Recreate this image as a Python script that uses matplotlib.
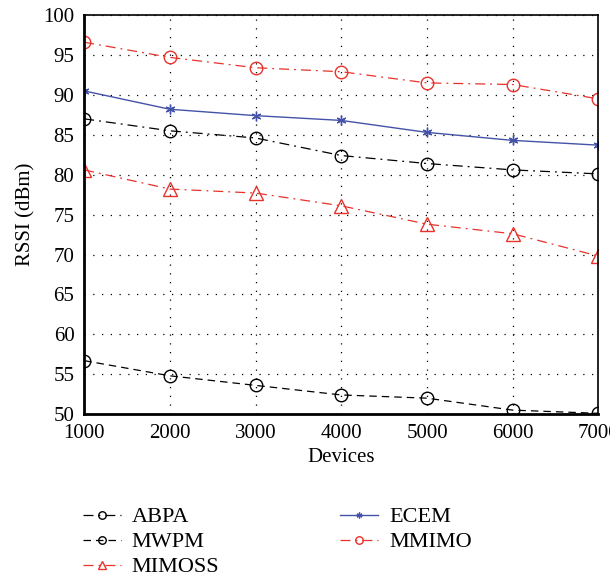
import matplotlib.pyplot as plt

plt.rcParams['font.family'] = ['Liberation Serif', 'DejaVu Serif']

devices = [1000, 2000, 3000, 4000, 5000, 6000, 7000]
abpa = [87.0, 85.5, 84.6, 82.4, 81.4, 80.6, 80.1]
mwpm = [56.7, 54.8, 53.6, 52.4, 52.0, 50.5, 50.1]
mimoss = [80.6, 78.2, 77.7, 76.1, 73.8, 72.6, 69.8]
ecem = [90.5, 88.2, 87.4, 86.8, 85.3, 84.3, 83.7]
mmimo = [96.6, 94.7, 93.4, 92.9, 91.5, 91.3, 89.5]

red = '#e8322b'
blue = '#4452a8'

fig = plt.figure(figsize=(6.1, 5.8), dpi=100)
ax = fig.add_axes([0.138, 0.286, 0.843, 0.688])

dashdot = (0, (8, 4, 1.5, 4))
ax.plot(devices, abpa, color='black', ls=dashdot, lw=0.9, marker='o', ms=9,
        mfc='none', mew=1.0, label='ABPA')
ax.plot(devices, mwpm, color='black', ls=(0, (6, 4)), lw=0.9, marker='o', ms=9,
        mfc='none', mew=1.0, label='MWPM')
ax.plot(devices, mimoss, color=red, ls=dashdot, lw=0.9, marker='^', ms=10,
        mfc='none', mew=1.0, label='MIMOSS')
ax.plot(devices, ecem, color=blue, ls='-', lw=1.0, marker=(6, 2, 0), ms=7,
        mew=1.0, label='ECEM')
ax.plot(devices, mmimo, color=red, ls=dashdot, lw=0.9, marker='o', ms=9,
        mfc='none', mew=1.0, label='MMIMO')

ax.set_xlim(1000, 7000)
ax.set_ylim(50, 100)
ax.set_xticks(devices)
ax.set_yticks(range(50, 101, 5))
ax.tick_params(direction='in', length=0, labelsize=15, pad=7)
ax.grid(True, color='black', ls=(0, (1, 6)), lw=0.9)
for s in ['left', 'bottom']:
    ax.spines[s].set_linewidth(2.0)
for s in ['top', 'right']:
    ax.spines[s].set_linewidth(1.2)

ax.set_xlabel('Devices', fontsize=15, labelpad=4)
ax.set_ylabel('RSSI (dBm)', fontsize=15, labelpad=6)

fig.legend(loc='upper left', bbox_to_anchor=(0.103, 0.1605), ncol=2, frameon=False,
           fontsize=16, handlelength=1.7, markerscale=0.6, columnspacing=5.45,
           labelspacing=0.2, handletextpad=0.5)

fig.savefig('out.png', dpi=100)
